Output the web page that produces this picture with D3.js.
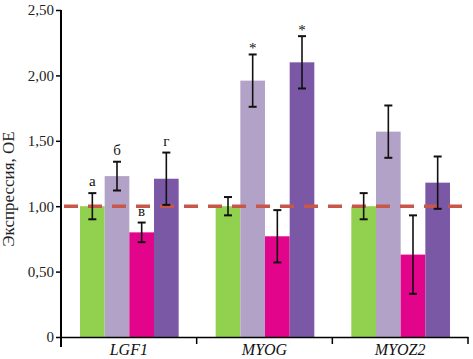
<!DOCTYPE html>
<html>
<head>
<meta charset="utf-8">
<script src="https://cdn.jsdelivr.net/npm/d3@7"></script>
<style>
  body { margin: 0; background: #fff; }
  text { font-family: "Liberation Serif", "DejaVu Serif", serif; }
</style>
</head>
<body>
<div id="viz"></div>
<script>
// data
var genes = ["LGF1", "MYOG", "MYOZ2"];
var groups = ["g1", "g2", "g3", "g4"];
var colors = ["#92d050", "#b3a2c8", "#e2058c", "#7b58a6"];
var g1Values = [1.00, 1.00, 1.00],  g1Err = [0.10, 0.07, 0.10];
var g2Values = [1.23, 1.96, 1.57],  g2Err = [0.11, 0.20, 0.20];
var g3Values = [0.80, 0.77, 0.63],  g3Err = [0.075, 0.20, 0.30];
var g4Values = [1.21, 2.10, 1.18],  g4Err = [0.20, 0.20, 0.20];
var marks = [["а", "б", "в", "г"], ["", "*", "", "*"], ["", "", "", ""]];
var yTicks = [0, 0.5, 1, 1.5, 2, 2.5];
var refLevel = 1.0;

var values = [g1Values, g2Values, g3Values, g4Values],
    errors = [g1Err, g2Err, g3Err, g4Err];

var data = [];
genes.forEach(function(gene, i) {
  groups.forEach(function(g, j) {
    data.push({gene: gene, group: j, value: values[j][i], err: errors[j][i], mark: marks[i][j]});
  });
});

var width = 473, height = 359;
var margin = {top: 10, right: 5, bottom: 22, left: 61};

var svg = d3.select("#viz")
  .append("svg")
  .attr("width", width)
  .attr("height", height);

var x0 = d3.scaleBand().domain(genes).range([margin.left, 468]).padding(0);
var x1 = d3.scaleBand().domain(d3.range(groups.length))
  .range([19, x0.bandwidth() - 18]).padding(0);
var y = d3.scaleLinear().domain([0, 2.5]).range([337, 10]);

// bars
svg.append("g").selectAll("rect")
  .data(data)
  .enter().append("rect")
  .attr("x", d => x0(d.gene) + x1(d.group))
  .attr("y", d => y(d.value))
  .attr("width", x1.bandwidth())
  .attr("height", d => y(0) - y(d.value))
  .attr("fill", d => colors[d.group]);

// reference dashed line
svg.append("line")
  .attr("x1", 64).attr("x2", 462)
  .attr("y1", y(refLevel)).attr("y2", y(refLevel))
  .attr("stroke", "#c8574a")
  .attr("stroke-width", 3.5)
  .attr("stroke-dasharray", "14,10");

// error bars
var eb = svg.append("g").attr("stroke", "#111").attr("stroke-width", 1.6);
data.forEach(function(d) {
  var cx = x0(d.gene) + x1(d.group) + x1.bandwidth() / 2;
  eb.append("line").attr("x1", cx).attr("x2", cx)
    .attr("y1", y(d.value + d.err)).attr("y2", y(d.value - d.err));
  [d.value + d.err, d.value - d.err].forEach(function(v) {
    eb.append("line").attr("x1", cx - 4).attr("x2", cx + 4)
      .attr("y1", y(v)).attr("y2", y(v)).attr("stroke-width", 2);
  });
});

// significance marks
svg.append("g").selectAll("text")
  .data(data.filter(d => d.mark))
  .enter().append("text")
  .attr("x", d => x0(d.gene) + x1(d.group) + x1.bandwidth() / 2)
  .attr("y", d => y(d.value + d.err) - (d.mark === "*" ? 1 : 7))
  .attr("text-anchor", "middle")
  .attr("font-size", 15)
  .attr("fill", "#111")
  .text(d => d.mark);

// y axis
var yAxis = d3.axisLeft(y)
  .tickValues(yTicks)
  .tickSize(5)
  .tickFormat(d => d === 0 ? "0" : d3.format(".2f")(d).replace(".", ","));
var gy = svg.append("g")
  .attr("transform", "translate(" + margin.left + ",0)")
  .call(yAxis);
gy.select(".domain").attr("stroke-width", 2).attr("d", "M0,10V347");
gy.selectAll(".tick line").attr("stroke-width", 1.5);
gy.selectAll(".tick text")
  .attr("font-family", "Liberation Serif")
  .attr("font-size", 15)
  .attr("fill", "#222")
  .attr("x", -7);

// x axis
var xAxis = d3.axisBottom(x0).tickSize(0).tickSizeOuter(0);
var gx = svg.append("g")
  .attr("transform", "translate(0," + y(0) + ")")
  .call(xAxis);
gx.select(".domain").attr("stroke-width", 1.5);
gx.selectAll(".tick text")
  .attr("font-family", "Liberation Serif")
  .attr("font-style", "italic")
  .attr("font-size", 16)
  .attr("fill", "#111")
  .attr("dy", 0)
  .attr("y", 18);
// boundary ticks between genes
gx.selectAll(".sep")
  .data([x0("MYOG"), x0("MYOZ2"), 468])
  .enter().append("line")
  .attr("x1", d => d).attr("x2", d => d)
  .attr("y1", 0).attr("y2", 7)
  .attr("stroke", "#000").attr("stroke-width", 1.5);

// y label
svg.append("text")
  .attr("transform", "translate(14,189) rotate(-90)")
  .attr("text-anchor", "middle")
  .attr("font-size", 17)
  .attr("fill", "#222")
  .text("Экспрессия, ОЕ");
</script>
</body>
</html>
